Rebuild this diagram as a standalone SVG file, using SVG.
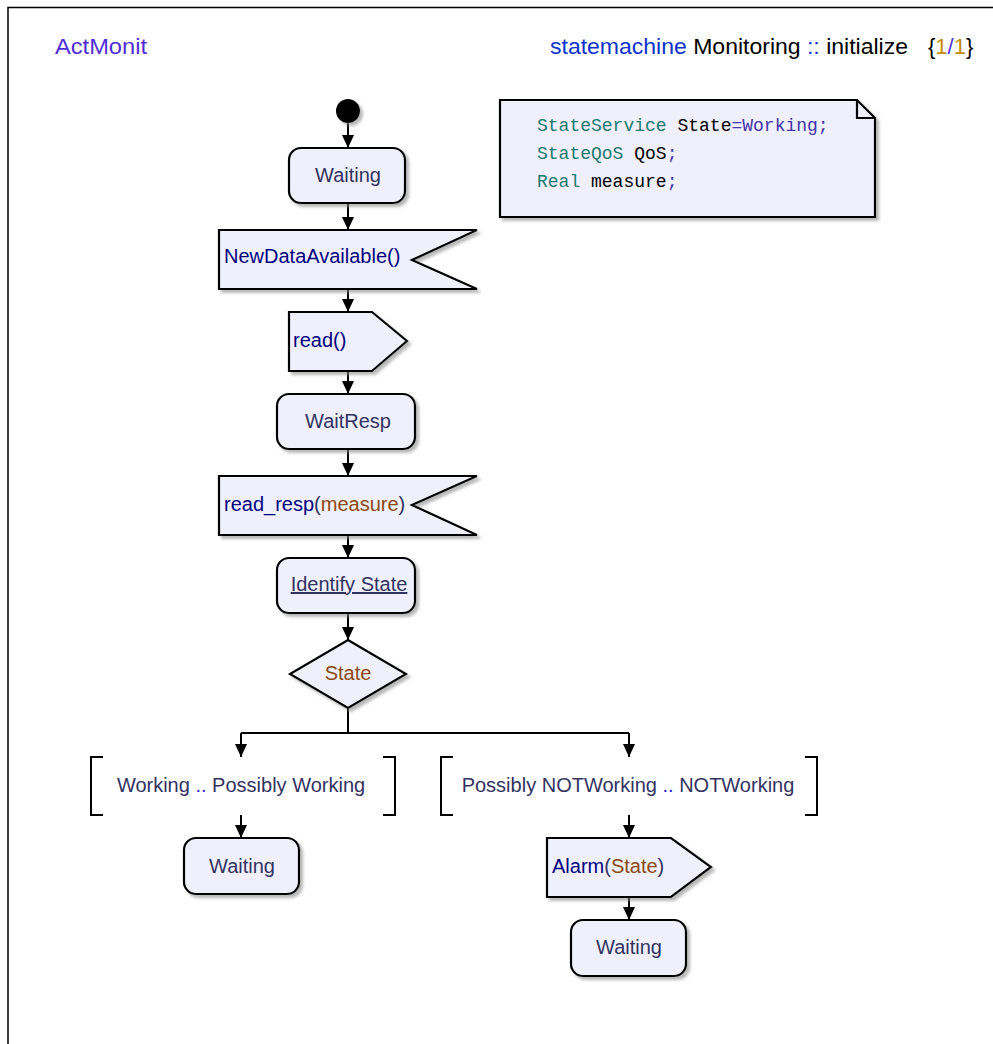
<svg xmlns="http://www.w3.org/2000/svg" width="993" height="1044" viewBox="0 0 993 1044">
<style>
.frame{fill:none;stroke:#000;stroke-width:1.5}
.node{fill:#f0f0fd;stroke:#000;stroke-width:2.2;filter:url(#sh)}
.t{font-family:"Liberation Sans",Arial,sans-serif;font-size:20px;fill:#33335f}
.sig{fill:#000080}
.var{fill:#8b4a0a}
.conn line,.conn path,.conn polyline{stroke:#000;stroke-width:2;fill:none}
.br{fill:none;stroke:#000;stroke-width:2}
.mono{font-family:"Liberation Mono","Courier New",monospace;font-size:18px;fill:#000}
.kw{fill:#1a7a6e}
.op{fill:#4433aa}
</style>
<defs>
<filter id="sh" x="-10%" y="-10%" width="130%" height="130%">
<feDropShadow dx="3" dy="3" stdDeviation="1.5" flood-color="#888" flood-opacity="0.6"/>
</filter>
<marker id="ah" markerWidth="12" markerHeight="14" refX="13" refY="6" orient="auto" markerUnits="userSpaceOnUse">
<path d="M0,0 L13,6 L0,12 z" fill="#000"/>
</marker>
</defs>
<rect width="993" height="1044" fill="#fff"/>
<path class="frame" d="M8,1044 L8,7.5 L993,7.5"/>
<g id="title">
<text x="55" y="54" font-family="Liberation Sans,Arial,sans-serif" font-size="22" fill="#4f2ed6" textLength="92" lengthAdjust="spacingAndGlyphs">ActMonit</text>
<text x="550" y="54" font-family="Liberation Sans,Arial,sans-serif" font-size="22" fill="#000" textLength="358" lengthAdjust="spacingAndGlyphs"><tspan fill="#0a33cc">statemachine</tspan> Monitoring <tspan fill="#0a33cc">::</tspan> initialize</text>
<text x="928" y="54" font-family="Liberation Sans,Arial,sans-serif" font-size="22" fill="#000">{<tspan fill="#c88a0a">1</tspan><tspan fill="#4f2ed6">/</tspan><tspan fill="#c88a0a">1</tspan>}</text>
</g>
<g class="conn" id="connectors">
<line x1="348" y1="123" x2="348" y2="148" marker-end="url(#ah)"/>
<line x1="348" y1="203" x2="348" y2="230" marker-end="url(#ah)"/>
<line x1="348" y1="289" x2="348" y2="312" marker-end="url(#ah)"/>
<line x1="348" y1="371" x2="348" y2="394" marker-end="url(#ah)"/>
<line x1="348" y1="449" x2="348" y2="476" marker-end="url(#ah)"/>
<line x1="348" y1="535" x2="348" y2="558" marker-end="url(#ah)"/>
<line x1="348" y1="613" x2="348" y2="640" marker-end="url(#ah)"/>
<line x1="348" y1="708" x2="348" y2="733"/>
<line x1="241" y1="733" x2="629" y2="733"/>
<line x1="241" y1="733" x2="241" y2="757" marker-end="url(#ah)"/>
<line x1="629" y1="733" x2="629" y2="757" marker-end="url(#ah)"/>
<line x1="241" y1="815" x2="241" y2="838" marker-end="url(#ah)"/>
<line x1="629" y1="815" x2="629" y2="838" marker-end="url(#ah)"/>
<line x1="629" y1="897" x2="629" y2="920" marker-end="url(#ah)"/>
</g>
<g id="start">
<circle cx="348" cy="111" r="12" fill="#000" filter="url(#sh)"/>
</g>
<g id="waiting1">
<rect class="node" x="289" y="148" width="116" height="55" rx="12"/>
<text class="t" x="348" y="182" text-anchor="middle">Waiting</text>
</g>
<g id="note">
<path class="node" d="M500,100 L857,100 L875,118 L875,217 L500,217 z"/>
<path d="M857,100 L857,118 L875,118" fill="none" stroke="#000" stroke-width="2.2"/>
<text class="mono" x="537" y="131"><tspan class="kw">StateService</tspan> State<tspan class="op">=Working;</tspan></text>
<text class="mono" x="537" y="159"><tspan class="kw">StateQoS</tspan> QoS<tspan class="op">;</tspan></text>
<text class="mono" x="537" y="187"><tspan class="kw">Real</tspan> measure<tspan class="op">;</tspan></text>
</g>
<g id="newData">
<path class="node" d="M219,230 L477,230 L412,260 L477,289 L219,289 z"/>
<text class="t sig" x="224" y="263">NewDataAvailable()</text>
</g>
<g id="read">
<path class="node" d="M289,312 L372,312 L407,341 L372,371 L289,371 z"/>
<text class="t sig" x="293" y="347">read()</text>
</g>
<g id="waitResp">
<rect class="node" x="277" y="394" width="138" height="55" rx="12"/>
<text class="t" x="348" y="428" text-anchor="middle">WaitResp</text>
</g>
<g id="readResp">
<path class="node" d="M219,476 L477,476 L412,505 L477,535 L219,535 z"/>
<text class="t" x="224" y="511"><tspan class="sig">read_resp</tspan>(<tspan class="var">measure</tspan>)</text>
</g>
<g id="identify">
<rect class="node" x="277" y="558" width="138" height="55" rx="12"/>
<text class="t" x="349" y="591" text-anchor="middle" text-decoration="underline">Identify State</text>
</g>
<g id="decision">
<path class="node" d="M348,640 L406,674 L348,708 L290,674 z"/>
<text class="t var" x="348" y="680" text-anchor="middle">State</text>
</g>
<g id="guard1">
<path class="br" d="M103,757 L91,757 L91,815 L103,815 M383,757 L395,757 L395,815 L383,815"/>
<text class="t" x="241" y="792" text-anchor="middle">Working <tspan fill="#3322cc">..</tspan> Possibly Working</text>
</g>
<g id="guard2">
<path class="br" d="M453,757 L441,757 L441,815 L453,815 M805,757 L817,757 L817,815 L805,815"/>
<text class="t" x="628" y="792" text-anchor="middle">Possibly NOTWorking <tspan fill="#3322cc">..</tspan> NOTWorking</text>
</g>
<g id="waiting2">
<rect class="node" x="184" y="838" width="115" height="56" rx="12"/>
<text class="t" x="242" y="873" text-anchor="middle">Waiting</text>
</g>
<g id="alarm">
<path class="node" d="M547,838 L671,838 L711,867 L671,897 L547,897 z"/>
<text class="t" x="552" y="873"><tspan class="sig">Alarm</tspan>(<tspan class="var">State</tspan>)</text>
</g>
<g id="waiting3">
<rect class="node" x="571" y="920" width="115" height="56" rx="12"/>
<text class="t" x="629" y="954" text-anchor="middle">Waiting</text>
</g>
</svg>
